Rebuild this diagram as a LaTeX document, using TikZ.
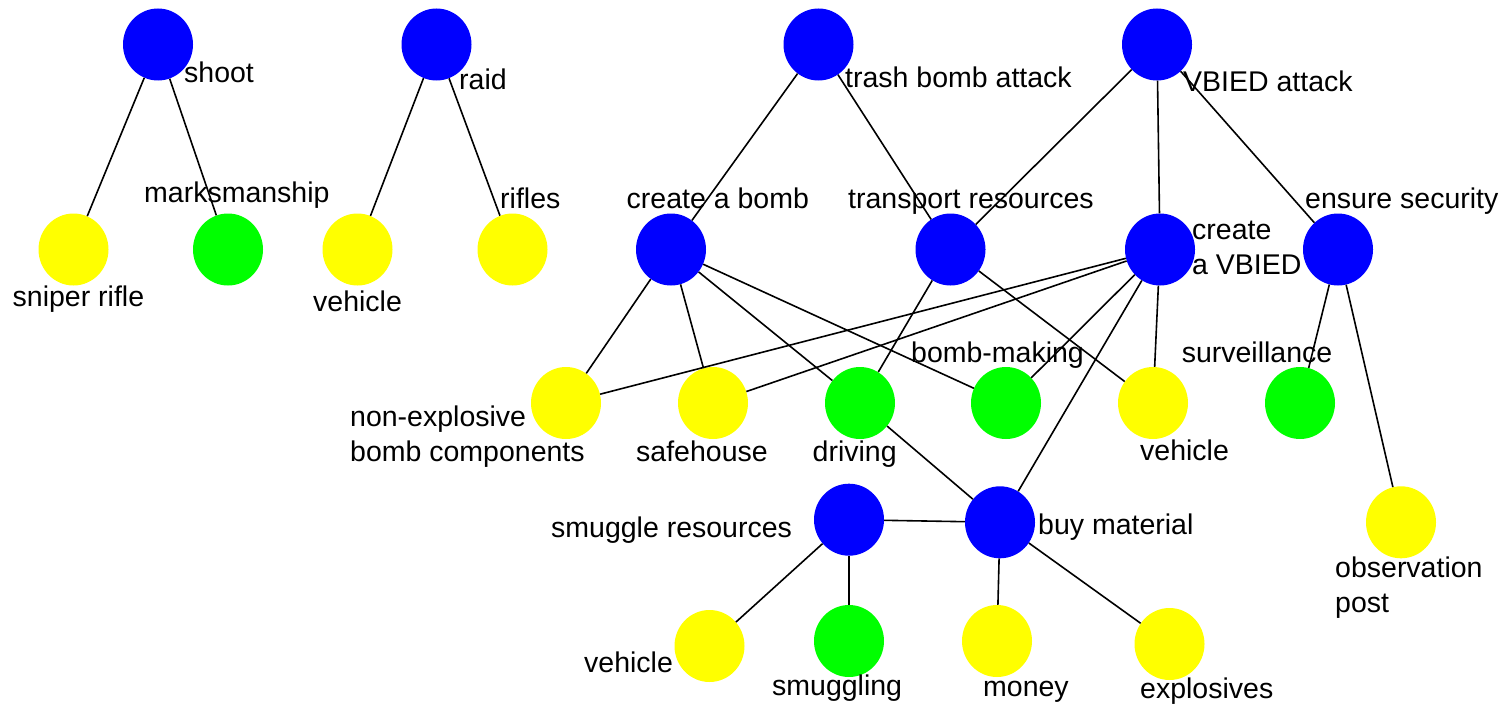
\documentclass[tikz,border=0pt]{standalone}
\usepackage{fontspec}
\setmainfont{Liberation Sans}
\usetikzlibrary{shapes.geometric}
\definecolor{nblue}{RGB}{0,0,255}
\definecolor{ngreen}{RGB}{0,255,0}
\definecolor{nyellow}{RGB}{255,255,0}
\tikzset{
 vtx/.style={ellipse, minimum width=70pt, minimum height=72pt, inner sep=0pt},
 goal/.style={vtx, fill=nblue},
 res/.style={vtx, fill=nyellow},
 skill/.style={vtx, fill=ngreen},
 lbl/.style={anchor=base west, inner sep=0pt, font=\fontsize{28.5}{35}\selectfont, align=left},
 link/.style={line width=1.6pt, black}
}
\begin{document}
\begin{tikzpicture}[x=1pt,y=-1pt]
\useasboundingbox (0,0) rectangle (1507,709);
% nodes
\node[goal] (shoot) at (158,44.5) {};
\node[goal] (raid) at (436.5,44.5) {};
\node[goal] (trash) at (818.5,44.5) {};
\node[goal] (vatk) at (1157,44.5) {};
\node[res] (sniper) at (73.5,249.5) {};
\node[skill] (marks) at (228,249.5) {};
\node[res] (veh1) at (357.5,249.5) {};
\node[res] (rifles) at (512.5,249.5) {};
\node[goal] (cbomb) at (671,249.5) {};
\node[goal] (transp) at (950.5,249.5) {};
\node[goal] (cvbied) at (1160,249.5) {};
\node[goal] (ensure) at (1338,249.5) {};
\node[res] (nonexp) at (566,403) {};
\node[res] (safe) at (713,403) {};
\node[skill] (driving) at (860,403) {};
\node[skill] (bombmk) at (1006,403) {};
\node[res] (veh2) at (1153,403) {};
\node[skill] (surv) at (1300,403) {};
\node[goal] (smuggle) at (849,519.7) {};
\node[goal] (buy) at (1000,522.3) {};
\node[res] (obs) at (1401,522.3) {};
\node[res] (veh3) at (709.5,646) {};
\node[skill] (smuggling) at (849,641) {};
\node[res] (money) at (997,641) {};
\node[res] (expl) at (1169.5,644) {};
% edges
\draw[link] (shoot) -- (sniper);
\draw[link] (shoot) -- (marks);
\draw[link] (raid) -- (veh1);
\draw[link] (raid) -- (rifles);
\draw[link] (trash) -- (cbomb);
\draw[link] (trash) -- (transp);
\draw[link] (vatk) -- (transp);
\draw[link] (vatk) -- (cvbied);
\draw[link] (vatk) -- (ensure);
\draw[link] (cbomb) -- (nonexp);
\draw[link] (cbomb) -- (safe);
\draw[link] (cbomb) -- (driving);
\draw[link] (cbomb) -- (bombmk);
\draw[link] (transp) -- (driving);
\draw[link] (transp) -- (veh2);
\draw[link] (cvbied) -- (nonexp);
\draw[link] (cvbied) -- (safe);
\draw[link] (cvbied) -- (bombmk);
\draw[link] (cvbied) -- (veh2);
\draw[link] (cvbied) -- (buy);
\draw[link] (ensure) -- (surv);
\draw[link] (ensure) -- (obs);
\draw[link] (driving) -- (buy);
\draw[link] (smuggle) -- (buy);
\draw[link] (smuggle) -- (veh3);
\draw[link] (smuggle) -- (smuggling);
\draw[link] (buy) -- (money);
\draw[link] (buy) -- (expl);
% labels
\node[lbl] (l-shoot) at (184,82) {shoot};
\node[lbl] (l-raid) at (459,89) {raid};
\node[lbl] (l-trash) at (845,88) {trash bomb attack};
\node[lbl] (l-vatk) at (1183,92) {VBIED attack};
\node[lbl] (l-sniper) at (12.5,306) {sniper rifle};
\node[lbl] (l-marks) at (144,202) {marksmanship};
\node[lbl] (l-veh1) at (313,311) {vehicle};
\node[lbl] (l-rifles) at (500,208) {rifles};
\node[lbl] (l-cbomb) at (626.5,208) {create a bomb};
\node[lbl] (l-transp) at (848,208) {transport resources};
\node[lbl] (l-cvbied) at (1192,274) {create\\a VBIED};
\node[lbl] (l-ensure) at (1305,208) {ensure security};
\node[lbl] (l-nonexp) at (350,461) {non-explosive\\bomb components};
\node[lbl] (l-safe) at (636,461) {safehouse};
\node[lbl] (l-driving) at (812.5,461) {driving};
\node[lbl] (l-bombmk) at (911,362) {bomb-making};
\node[lbl] (l-veh2) at (1140,460) {vehicle};
\node[lbl] (l-surv) at (1181.6,362) {surveillance};
\node[lbl] (l-smuggle) at (551,537) {smuggle resources};
\node[lbl] (l-buy) at (1038,534) {buy material};
\node[lbl] (l-obs) at (1335,612) {observation\\post};
\node[lbl] (l-veh3) at (584,672) {vehicle};
\node[lbl] (l-smuggling) at (772,695) {smuggling};
\node[lbl] (l-money) at (983,696) {money};
\node[lbl] (l-expl) at (1140,698) {explosives};
\end{tikzpicture}
\end{document}
